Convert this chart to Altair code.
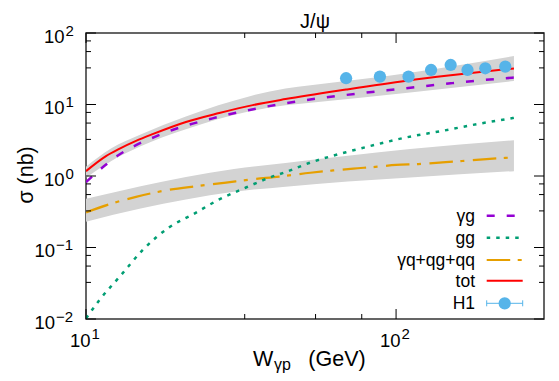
import altair as alt
import pandas as pd

# ---------------- data ----------------
# W_gamma-p (GeV) and sigma (nb)
W_tot = [10, 11.6, 12.8, 14.5, 16.4, 21.0, 26.9, 34.5, 44, 69, 108, 150, 240]
sig_tot = [1.17, 1.9, 2.4, 3.1, 3.85, 5.7, 7.6, 9.8, 11.9, 16.2, 21.5, 25.6, 32.0]

W_yg = [10, 11.5, 12.6, 14.5, 16.6, 19, 22.1, 25.6, 29, 33.7, 41, 44.4, 69, 108, 150, 187, 240]
sig_yg = [0.82, 1.4, 1.9, 2.7, 3.5, 4.4, 5.4, 6.4, 7.3, 8.4, 9.9, 10.5, 13.6, 16.9, 19.8, 21.8, 23.8]

W_gg = [10, 11.1, 12.9, 15.3, 18.5, 22.1, 26.9, 32.8, 39.1, 44.2, 52.9, 61.2, 70, 86.7, 107, 142, 186, 240]
sig_gg = [0.0102, 0.0189, 0.04, 0.094, 0.19, 0.29, 0.47, 0.69, 0.95, 1.14, 1.54, 1.87, 2.19, 2.77, 3.44, 4.3, 5.4, 6.5]

W_q = [10, 12.5, 14.5, 18.5, 22.6, 28.3, 34.5, 42, 52.9, 62, 72.8, 85.6, 100, 118, 138, 163, 191, 225, 240]
sig_q = [0.31, 0.43, 0.51, 0.64, 0.72, 0.81, 0.9, 0.98, 1.11, 1.19, 1.27, 1.34, 1.43, 1.47, 1.54, 1.62, 1.71, 1.79, 1.82]

W_band_tot = [10, 12, 15, 21, 34, 44, 53, 111, 240]
band_tot_lo = [0.95, 1.6, 2.6, 4.5, 8.1, 9.8, 10.6, 14.7, 21.3]
band_tot_hi = [1.35, 2.4, 3.8, 6.8, 13.2, 16.8, 18.6, 27.9, 47.7]

W_band_q = [10, 15, 21, 30, 44, 111, 240]
band_q_lo = [0.23, 0.35, 0.47, 0.6, 0.71, 0.95, 1.17]
band_q_hi = [0.48, 0.72, 0.97, 1.25, 1.52, 2.38, 3.16]

W_h1 = [69, 88.7, 109.7, 129.7, 150, 170, 194, 225]
sig_h1 = [23.3, 24.6, 24.6, 30.4, 35.7, 30.4, 32.1, 33.9]

# tick values and tick-label parts ("10" + superscript exponent)
x_major = [10, 100]
x_exp = ["1", "2"]
x_minor = [32.5, 55, 77.5]
y_major_pos = [1, 10, 100]
y_exp_pos = ["0", "1", "2"]
y_major_neg = [0.01, 0.1]
y_exp_neg = ["−2", "−1"]
y_minor = [0.0325, 0.055, 0.0775, 0.325, 0.55, 0.775, 3.25, 5.5, 7.75, 32.5, 55, 77.5]

legend_labels = ["γg", "gg", "γq+qg+qq", "tot", "H1"]
title_text = "J/ψ"
ytitle_text = "σ (nb)"
xtitle_main = "W"
xtitle_sub = "γp"
xtitle_unit = "(GeV)"

# ---------------- styling ----------------
FONT = "Liberation Sans"
PW, PH = 458, 286
C_YG = "#9400D3"
C_GG = "#009E73"
C_Q = "#E69F00"
C_TOT = "#FF0000"
C_H1 = "#56B4E9"
C_BAND = "#D3D3D3"
F_MAIN, F_EXP = 18.5, 15

xscale = alt.Scale(type="log", domain=[10, 300], nice=False)
yscale = alt.Scale(type="log", domain=[0.01, 100], nice=False)


def X(field):
    return alt.X(f"{field}:Q", scale=xscale, axis=None)


def Y(field):
    return alt.Y(f"{field}:Q", scale=yscale, axis=None)


layers = []

# bands
df_b1 = pd.DataFrame({"W": W_band_tot, "lo": band_tot_lo, "hi": band_tot_hi})
df_b2 = pd.DataFrame({"W": W_band_q, "lo": band_q_lo, "hi": band_q_hi})
for dfb in (df_b2, df_b1):
    layers.append(alt.Chart(dfb).mark_area(color=C_BAND, opacity=1, interpolate="monotone")
                  .encode(x=X("W"), y=Y("lo"), y2="hi"))

# curves
STY_YG = dict(color=C_YG, strokeWidth=2.5, strokeDash=[8, 12])
STY_GG = dict(color=C_GG, strokeWidth=2.5, strokeDash=[3.5, 6])
STY_Q = dict(color=C_Q, strokeWidth=2.2, strokeDash=[23.5, 7.5, 4, 8.5])
STY_TOT = dict(color=C_TOT, strokeWidth=2)

for Ws, ss, sty in [(W_q, sig_q, STY_Q), (W_gg, sig_gg, STY_GG),
                    (W_yg, sig_yg, STY_YG), (W_tot, sig_tot, STY_TOT)]:
    df = pd.DataFrame({"W": Ws, "s": ss})
    layers.append(alt.Chart(df).mark_line(clip=True, interpolate="monotone", **sty)
                  .encode(x=X("W"), y=Y("s")))

# H1 points
df_h1 = pd.DataFrame({"W": W_h1, "s": sig_h1})
layers.append(alt.Chart(df_h1).mark_point(filled=True, shape="circle", size=150,
                                           color=C_H1, opacity=1).encode(x=X("W"), y=Y("s")))


# inward ticks on all four sides
def yticks(vals, length):
    df = pd.DataFrame({"v": vals})
    base = alt.Chart(df).mark_rule(color="black", strokeWidth=1)
    return [base.encode(y=Y("v"), x=alt.value(0), x2=alt.value(length)),
            base.encode(y=Y("v"), x=alt.value(PW), x2=alt.value(PW - length))]


def xticks(vals, length):
    df = pd.DataFrame({"v": vals})
    base = alt.Chart(df).mark_rule(color="black", strokeWidth=1)
    return [base.encode(x=X("v"), y=alt.value(PH), y2=alt.value(PH - length)),
            base.encode(x=X("v"), y=alt.value(0), y2=alt.value(length))]


y_major = y_major_neg + y_major_pos
layers += yticks(y_major, 10) + yticks(y_minor, 5) + xticks(x_major, 10) + xticks(x_minor, 5)


# tick labels: "10" plus a raised exponent, placed through the scales
def ylabels(vals, exps, x_base):
    df = pd.DataFrame({"v": vals, "base": ["10"] * len(vals), "e": exps})
    base = alt.Chart(df).mark_text(font=FONT, fontSize=F_MAIN, align="right",
                                   baseline="alphabetic", dy=9.5, color="black").encode(
        y=Y("v"), x=alt.value(x_base), text="base:N")
    ex = alt.Chart(df).mark_text(font=FONT, fontSize=F_EXP, align="left",
                                 baseline="alphabetic", dy=2.5, color="black").encode(
        y=Y("v"), x=alt.value(x_base + 1), text="e:N")
    return [base, ex]


layers += ylabels(y_major_pos, y_exp_pos, -21.5)
layers += ylabels(y_major_neg, y_exp_neg, -31)

df_xl = pd.DataFrame({"v": x_major, "base": ["10"] * len(x_major), "e": x_exp})
layers.append(alt.Chart(df_xl).mark_text(font=FONT, fontSize=F_MAIN, align="right",
                                         baseline="alphabetic", dx=4.5, color="black").encode(
    x=X("v"), y=alt.value(313.5), text="base:N"))
layers.append(alt.Chart(df_xl).mark_text(font=FONT, fontSize=F_EXP, align="left",
                                         baseline="alphabetic", dx=5.5, color="black").encode(
    x=X("v"), y=alt.value(305.5), text="e:N"))


def text_layer(t, x, y, size, align="left", baseline="alphabetic", angle=0):
    df = pd.DataFrame({"t": [t]})
    return alt.Chart(df).mark_text(font=FONT, fontSize=size, align=align, baseline=baseline,
                                   angle=angle, color="black").encode(
        text="t:N", x=alt.value(x), y=alt.value(y))


# titles
layers.append(text_layer(title_text, PW / 2, -5.5, 20, align="center"))
layers.append(text_layer(ytitle_text, -53.5, PH / 2 - 1, 21.5, align="center", angle=270))
layers.append(text_layer(xtitle_main, 167, 333, 21.5))
layers.append(text_layer(xtitle_sub, 188, 336.5, 16))
layers.append(text_layer(xtitle_unit, 222.3, 333, 21.5))

# legend
row_y = [182.7, 204.7, 227, 247.7, 270.3]
LX1, LX2, LTX = 400.7, 436.7, 389
one = pd.DataFrame({"a": [0]})
for lab, ry in zip(legend_labels, row_y):
    layers.append(text_layer(lab, LTX, ry + 6, 17.5, align="right"))
for sty, ry in zip([STY_YG, STY_GG, STY_Q, STY_TOT], row_y[:4]):
    layers.append(alt.Chart(one).mark_rule(**sty).encode(
        x=alt.value(LX1), x2=alt.value(LX2), y=alt.value(ry)))
ry = row_y[4]
layers.append(alt.Chart(one).mark_rule(color=C_H1, strokeWidth=1).encode(
    x=alt.value(LX1), x2=alt.value(LX2), y=alt.value(ry)))
for xc in [LX1, LX2]:
    layers.append(alt.Chart(one).mark_rule(color=C_H1, strokeWidth=1).encode(
        x=alt.value(xc), y=alt.value(ry - 3), y2=alt.value(ry + 3)))
layers.append(alt.Chart(one).mark_point(filled=True, shape="circle", size=150, color=C_H1, opacity=1).encode(
    x=alt.value((LX1 + LX2) / 2), y=alt.value(ry)))

chart = alt.layer(*layers).properties(
    width=PW, height=PH,
    autosize=alt.AutoSizeParams(type="none"),
    padding={"left": 78, "top": 25, "right": 7, "bottom": 54},
).configure_view(stroke="#333333", strokeWidth=1.5)

chart.save("out.html", embed_options={"renderer": "svg", "actions": False})
